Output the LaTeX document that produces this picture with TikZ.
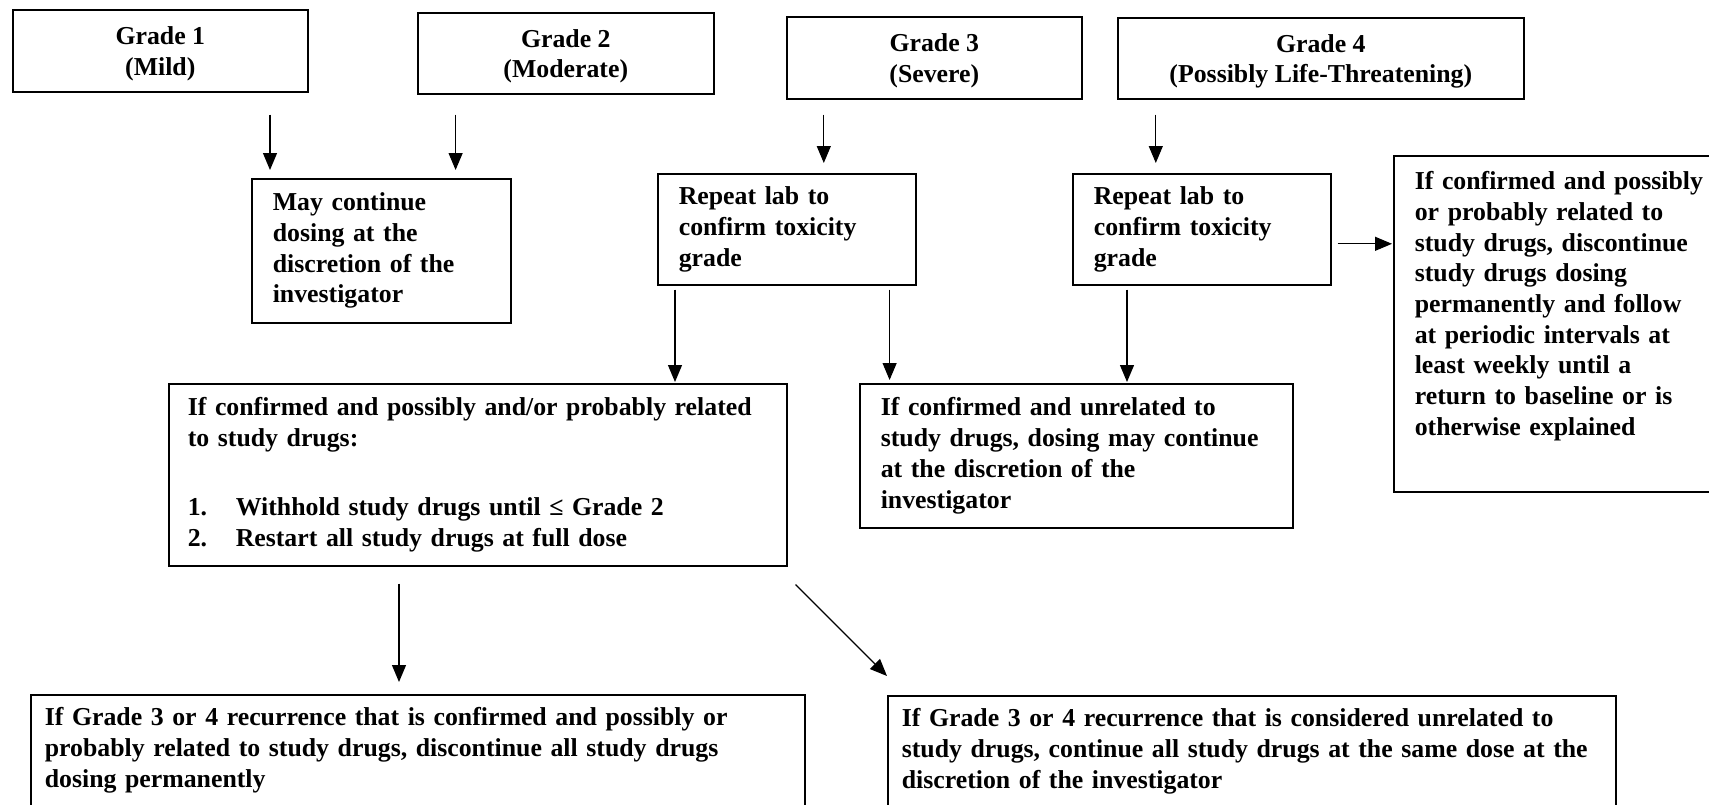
\documentclass[tikz,border=0pt]{standalone}
\usepackage{fontspec}
\setmainfont{Liberation Serif}
\usetikzlibrary{positioning,calc,arrows.meta}

\begin{document}
\begin{tikzpicture}[x=0.5pt, y=-0.5pt, >={Triangle[length=8.5pt,width=7pt]}, line width=0.6pt,
  grade node/.style={draw, line width=0.8pt, anchor=north west, align=center, inner sep=0pt, font=\bfseries\fontsize{12.9}{15.35}\selectfont},
  text node/.style={draw, line width=0.8pt, anchor=north west, align=left, inner xsep=10.5pt, inner ysep=0pt, font=\bfseries\fontsize{12.9}{15.35}\selectfont}]

  \useasboundingbox (0,0) rectangle (1709,804);

  % Grade boxes
  \node[grade node, minimum width=147.5pt, minimum height=41pt] (g1) at (12,9) {\rule{0pt}{12pt}Grade 1\\(Mild)};
  \node[grade node, minimum width=148pt, minimum height=40.5pt] (g2) at (417,12) {\rule{0pt}{12pt}Grade 2\\(Moderate)};
  \node[grade node, minimum width=147.5pt, minimum height=41pt] (g3) at (786,16) {\rule{0pt}{12pt}Grade 3\\(Severe)};
  \node[grade node, minimum width=203pt, minimum height=40.5pt] (g4) at (1117,17) {\rule{0pt}{12pt}Grade 4\\(Possibly Life-Threatening)};

  % Second row
  \node[text node, text width=108.5pt, minimum height=72pt] (may) at (251,178) {May continue\\ dosing at the\\ discretion of the\\ investigator};
  \node[text node, text width=108pt, minimum height=55.5pt] (rep3) at (657,173) {Repeat lab to\\ confirm toxicity\\ grade};
  \node[text node, text width=108pt, minimum height=55.5pt] (rep4) at (1072,173) {Repeat lab to\\ confirm toxicity\\ grade};
  \node[text node, text width=170pt, minimum height=168pt] (stop) at (1393,155) {If confirmed and possibly\\ or probably related to\\ study drugs, discontinue\\ study drugs dosing\\ permanently and follow\\ at periodic intervals at\\ least weekly until a\\ return to baseline or is\\ otherwise explained\\[5pt] \mbox{}};

  % Third row
  \node[text node, inner xsep=9.5pt, text width=290pt, minimum height=91pt] (big) at (168,383) {If confirmed and possibly and/or probably related\\ to study drugs:\\[19pt] \makebox[24pt][l]{1.}Withhold study drugs until ≤ Grade 2\\ \makebox[24pt][l]{2.}Restart all study drugs at full dose};
  \node[text node, text width=195.5pt, minimum height=72pt] (unrel) at (859,383) {If confirmed and unrelated to\\ study drugs, dosing may continue\\ at the discretion of the\\ investigator};

  % Bottom row
  \node[text node, inner xsep=7pt, inner ysep=6.5pt, text width=373pt] (bl) at (30,694) {If Grade 3 or 4 recurrence that is confirmed and possibly or\\ probably related to study drugs, discontinue all study drugs\\ dosing permanently\\ \mbox{}};
  \node[text node, inner xsep=7pt, inner ysep=6.5pt, text width=350pt] (br) at (887,695) {If Grade 3 or 4 recurrence that is considered unrelated to\\ study drugs, continue all study drugs at the same dose at the\\ discretion of the investigator\\ \mbox{}};

  % Arrows
  \draw[->, shorten <=11pt, shorten >=4pt] ($(may.north west |- g1.south)+(19,0)$) -- ($(may.north west)+(19,0)$);
  \draw[->, shorten <=10pt, shorten >=4pt] ($(may.north east |- g2.south)+(-56,0)$) -- ($(may.north east)+(-56,0)$);
  \draw[->, shorten <=7.5pt, shorten >=5pt] ($(rep3.north |- g3.south)+(37,0)$) -- ($(rep3.north)+(37,0)$);
  \draw[->, shorten <=7.5pt, shorten >=5pt] ($(rep4.north |- g4.south)+(-46,0)$) -- ($(rep4.north)+(-46,0)$);
  \draw[->, shorten <=2pt, shorten >=0.5pt] ($(rep3.south west)+(18,0)$) -- ($(rep3.south west |- big.north)+(18,0)$);
  \draw[->, shorten <=2pt, shorten >=1.5pt] ($(rep3.south east)+(-27,0)$) -- ($(rep3.south east |- unrel.north)+(-27,0)$);
  \draw[->, shorten <=2pt, shorten >=0.5pt] ($(rep4.south west)+(55,0)$) -- ($(rep4.south west |- unrel.north)+(55,0)$);
  \draw[->, shorten <=3pt, shorten >=0.5pt] ($(rep4.east)+(0,14.5)$) -- ($(rep4.east -| stop.west)+(0,14.5)$);
  \draw[->, shorten <=8.5pt, shorten >=6pt] ($(big.south west |- big.south)+(231,0)$) -- ($(big.south west |- bl.north)+(231,0)$);
  \draw[->] ($(big.south east)+(8,18)$) -- ($(br.north west)+(0,-19)$);
\end{tikzpicture}
\end{document}
